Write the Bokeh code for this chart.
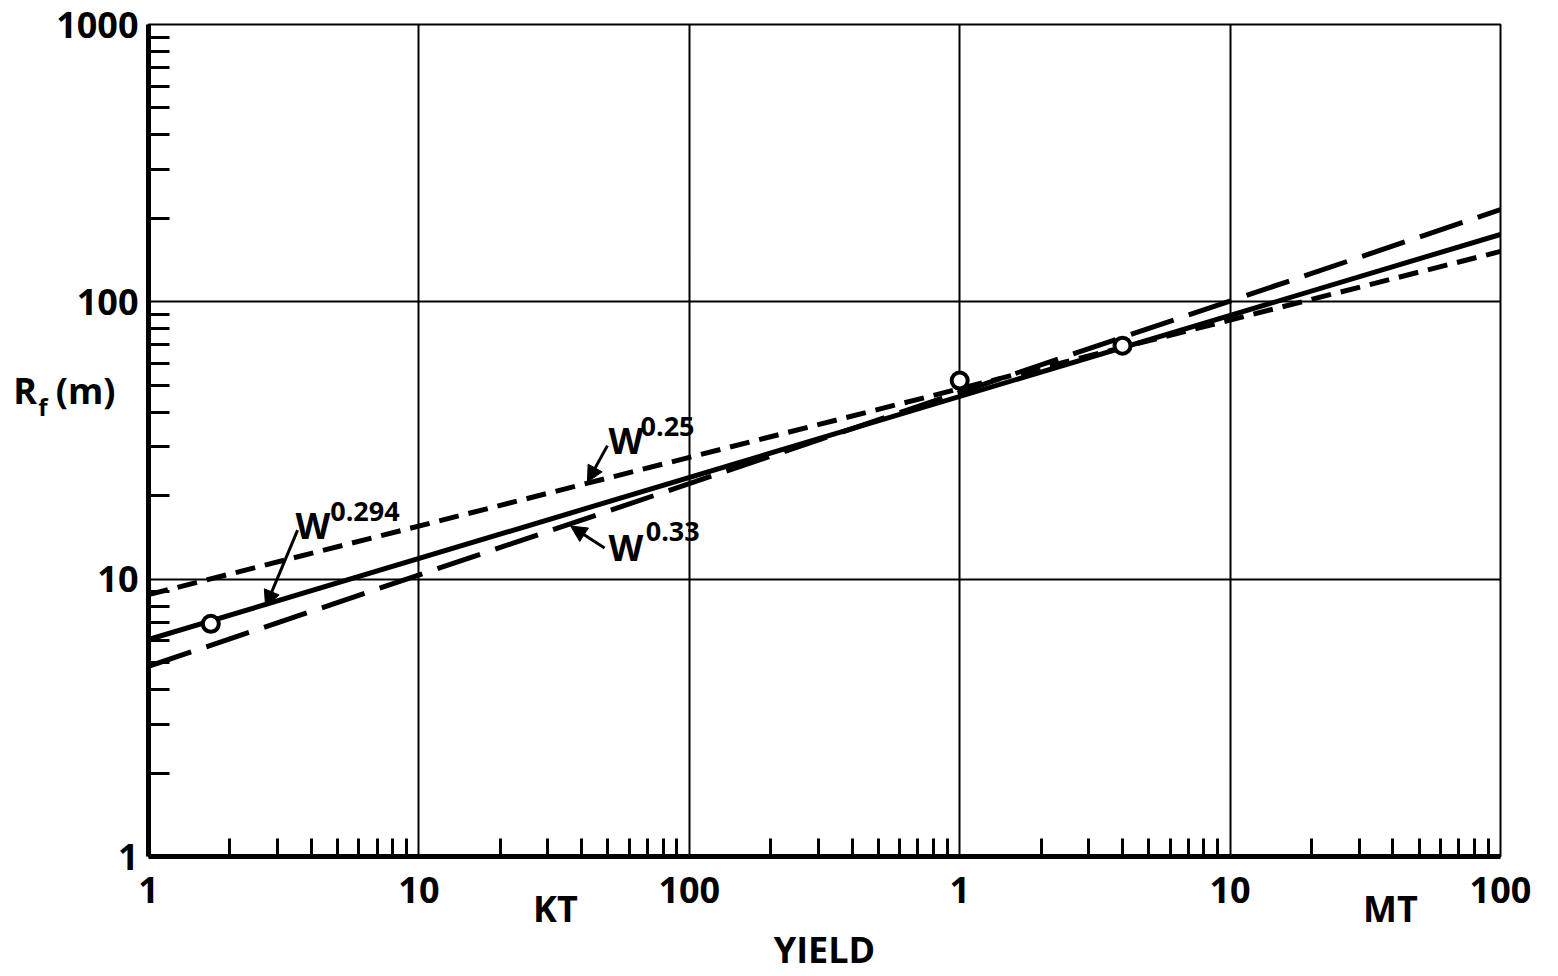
from bokeh.plotting import figure
from bokeh.models import FixedTicker, Label, Arrow, NormalHead, LogAxis
from bokeh.embed import file_html
from bokeh.resources import INLINE

# ---- data ----
yield_kt_ends = [1, 100000]          # 1 KT .. 100 MT
r_w0294 = [6.06, 175]                # solid  W^0.294
r_w025 = [8.79, 152]                 # short dash W^0.25
r_w033 = [4.85, 215]                 # long dash W^0.33
pts_yield = [1.7, 1000, 4000]
pts_r = [6.9, 52, 69.5]

x_ticks = [1, 10, 100, 1000, 10000, 100000]
x_tick_labels = ["1", "10", "100", "1", "10", "100"]
y_ticks = [1, 10, 100, 1000]
y_tick_labels = ["1", "10", "100", "1000"]
minor_mult = [2, 3, 4, 5, 6, 7, 8, 9]
unit_pos = [32, 39180]               # where the unit names sit on the yield axis
unit_names = ["KT", "MT"]

FONT = "Open Sans"

p = figure(width=1558, height=976, x_axis_type="log", y_axis_type="log",
           x_range=(1, 100000), y_range=(1, 1000),
           output_backend="svg", toolbar_location=None,
           min_border_left=148, min_border_right=58,
           min_border_top=24, min_border_bottom=118)
p.background_fill_color = "white"
p.border_fill_color = "white"
p.outline_line_color = "black"
p.outline_line_width = 2

x_minor = [d * m for d in x_ticks[:-1] for m in minor_mult]
y_minor = [d * m for d in y_ticks[:-1] for m in minor_mult]

xa = p.xaxis[0]
ya = p.yaxis[0]
xa.ticker = FixedTicker(ticks=x_ticks, minor_ticks=x_minor)
ya.ticker = FixedTicker(ticks=y_ticks, minor_ticks=y_minor)
xa.major_label_overrides = {float(t): l for t, l in zip(x_ticks, x_tick_labels)}
ya.major_label_overrides = {float(t): l for t, l in zip(y_ticks, y_tick_labels)}

for ax, minor_len in ((xa, 18), (ya, 21)):
    ax.axis_line_color = "black"
    ax.axis_line_width = 5
    ax.major_tick_in = 0
    ax.major_tick_out = 0
    ax.minor_tick_in = minor_len
    ax.minor_tick_out = 0
    ax.minor_tick_line_width = 3
    ax.minor_tick_line_color = "black"
    ax.major_label_text_font = FONT
    ax.major_label_text_font_style = "bold"
    ax.major_label_text_font_size = "36px"
    ax.major_label_text_color = "black"
xa.major_label_standoff = 20
ya.major_label_standoff = 10

def text_axis(kind, place, ticks, labels, size, standoff, axis_label=None, label_standoff=0):
    ax = kind(ticker=FixedTicker(ticks=ticks, minor_ticks=[]),
              major_label_overrides={float(t): l for t, l in zip(ticks, labels)},
              axis_line_color=None, major_tick_line_color=None, minor_tick_line_color=None,
              major_tick_in=0, major_tick_out=0, minor_tick_in=0, minor_tick_out=0,
              major_label_text_font=FONT, major_label_text_font_style="bold",
              major_label_text_font_size=size, major_label_text_color="black",
              major_label_standoff=standoff)
    if axis_label:
        ax.axis_label = axis_label
        ax.axis_label_text_font = FONT
        ax.axis_label_text_font_style = "bold"
        ax.axis_label_text_font_size = "36px"
        ax.axis_label_text_color = "black"
        ax.axis_label_standoff = label_standoff
    p.add_layout(ax, place)

# unit names + axis title below the yield axis
text_axis(LogAxis, "below", unit_pos, unit_names, "36px", -22, "YIELD", -11)
# R_f (m) on the left: "R  (m)" (non-breaking spaces) then the subscript f
text_axis(LogAxis, "left", [47.8], ["R\u00a0\u00a0(m)"], "36px", -62)
text_axis(LogAxis, "left", [41.9], ["f"], "24px", -37)

p.xgrid.ticker = FixedTicker(ticks=x_ticks)
p.ygrid.ticker = FixedTicker(ticks=y_ticks)
for g in (p.xgrid[0], p.ygrid[0]):
    g.grid_line_color = "black"
    g.grid_line_width = 2
    g.grid_line_alpha = 1.0

# ---- curves ----
p.line(yield_kt_ends, r_w025, line_color="black", line_width=5, line_dash="20 10")
p.line(yield_kt_ends, r_w033, line_color="black", line_width=5, line_dash="45 16")
p.line(yield_kt_ends, r_w0294, line_color="black", line_width=5)
p.scatter(pts_yield, pts_r, size=16, fill_color="white", line_color="black", line_width=4)

# ---- annotations ----
def lab(x, y, t, size):
    p.add_layout(Label(x=x, y=y, text=t, text_font=FONT, text_font_style="bold",
                       text_font_size=size, text_color="black", text_align="left",
                       text_baseline="alphabetic"))

lab(3.5, 15.6, "W", "36px")
lab(4.7, 17.6, "0.294", "27px")
lab(50.3, 31.6, "W", "36px")
lab(66.0, 35.5, "0.25", "27px")
lab(50.3, 13.0, "W", "36px")
lab(69.0, 14.9, "0.33", "27px")

def arr(x0, y0, x1, y1):
    p.add_layout(Arrow(x_start=x0, y_start=y0, x_end=x1, y_end=y1,
                       line_color="black", line_width=3,
                       end=NormalHead(size=16, fill_color="black", line_color="black")))

arr(3.56, 15.03, 2.71, 7.96)
arr(49.8, 30.3, 42.0, 22.4)
arr(48.6, 12.96, 36.4, 15.54)

open("out.html", "w").write(file_html(p, INLINE))
